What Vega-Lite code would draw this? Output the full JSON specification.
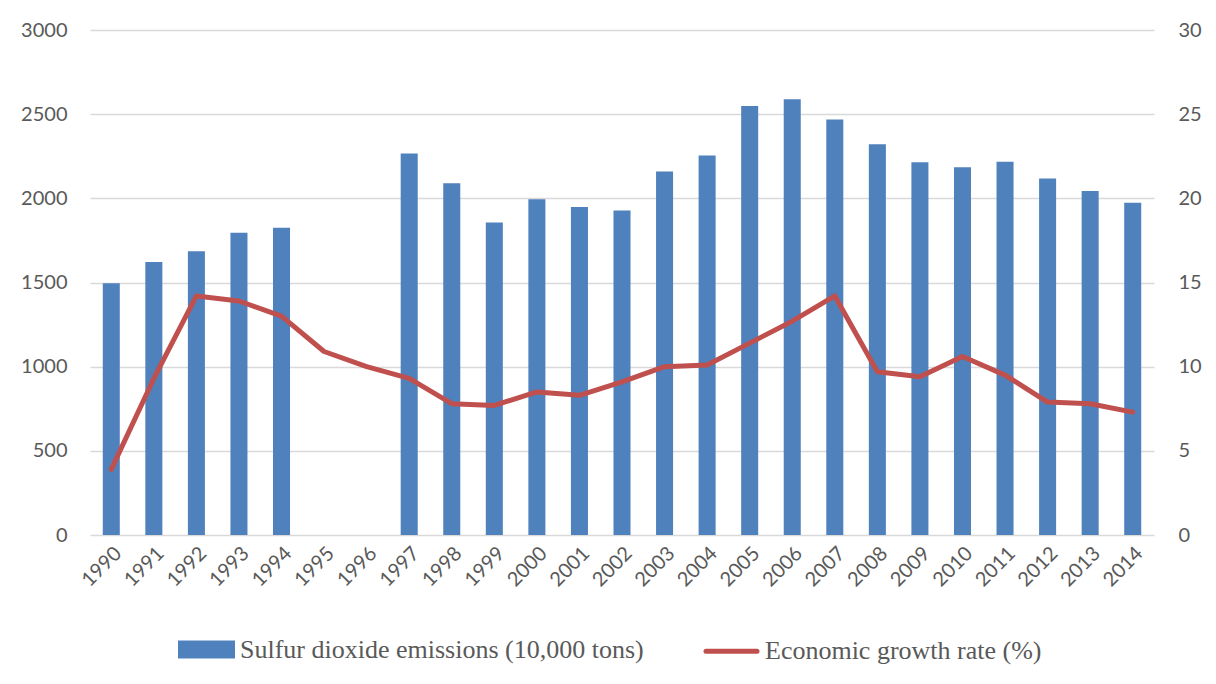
{
  "$schema": "https://vega.github.io/schema/vega-lite/v6.json",
  "width": 1064,
  "height": 505,
  "autosize": {"type": "none"},
  "padding": {"left": 90, "top": 30, "right": 62, "bottom": 149},
  "background": "white",
  "config": {
    "view": {"stroke": null},
    "font": "Lato",
    "axis": {"labelFont": "Lato", "labelFontSize": 20, "labelColor": "#595959", "domain": false, "ticks": false, "title": null}
  },
  "data": {
    "values": [
      {"year": "1990", "so2": 1495, "growth": 3.9},
      {"year": "1991", "so2": 1622, "growth": 9.3},
      {"year": "1992", "so2": 1685, "growth": 14.2},
      {"year": "1993", "so2": 1795, "growth": 13.9},
      {"year": "1994", "so2": 1825, "growth": 13.0},
      {"year": "1995", "so2": null, "growth": 10.9},
      {"year": "1996", "so2": null, "growth": 10.0},
      {"year": "1997", "so2": 2266, "growth": 9.3},
      {"year": "1998", "so2": 2090, "growth": 7.8},
      {"year": "1999", "so2": 1857, "growth": 7.7},
      {"year": "2000", "so2": 1995, "growth": 8.5},
      {"year": "2001", "so2": 1948, "growth": 8.3},
      {"year": "2002", "so2": 1927, "growth": 9.1},
      {"year": "2003", "so2": 2159, "growth": 10.0},
      {"year": "2004", "so2": 2255, "growth": 10.1},
      {"year": "2005", "so2": 2549, "growth": 11.4},
      {"year": "2006", "so2": 2589, "growth": 12.7},
      {"year": "2007", "so2": 2468, "growth": 14.2},
      {"year": "2008", "so2": 2321, "growth": 9.7},
      {"year": "2009", "so2": 2214, "growth": 9.4},
      {"year": "2010", "so2": 2185, "growth": 10.6},
      {"year": "2011", "so2": 2218, "growth": 9.5},
      {"year": "2012", "so2": 2118, "growth": 7.9},
      {"year": "2013", "so2": 2044, "growth": 7.8},
      {"year": "2014", "so2": 1974, "growth": 7.3}
    ]
  },
  "encoding": {
    "x": {
      "field": "year",
      "type": "ordinal",
      "scale": {"paddingInner": 0.6, "paddingOuter": 0.3},
      "axis": {"labelAngle": -45, "labelPadding": 8, "grid": false}
    }
  },
  "layer": [
    {
      "mark": {"type": "bar", "color": "#4F81BD"},
      "encoding": {
        "y": {
          "field": "so2",
          "type": "quantitative",
          "scale": {"domain": [0, 3000], "nice": false},
          "axis": {"values": [0, 500, 1000, 1500, 2000, 2500, 3000], "format": "d", "grid": true, "gridColor": "#D9D9D9", "gridWidth": 1.5, "labelPadding": 23}
        },
        "color": {
          "datum": "Sulfur dioxide emissions (10,000 tons)",
          "type": "nominal",
          "scale": {
            "domain": ["Sulfur dioxide emissions (10,000 tons)", "Economic growth rate (%)"],
            "range": ["#4F81BD", "#C0504D"]
          },
          "legend": {
            "title": null,
            "orient": "none",
            "legendX": 88,
            "legendY": 591,
            "direction": "horizontal",
            "padding": 0,
            "offset": 0,
            "labelFont": "Liberation Serif",
            "labelFontSize": 26,
            "labelColor": "#595959",
            "labelOffset": 5,
            "labelLimit": 0,
            "columnPadding": 52,
            "symbolSize": 2704,
            "symbolStrokeWidth": 5,
            "encode": {
              "symbols": {
                "update": {
                  "shape": {"signal": "datum.value === 'Economic growth rate (%)' ? 'M-0.98,0H0.98' : 'M-1,-0.25H1V0.25H-1Z'"},
                  "fill": {"signal": "datum.value === 'Economic growth rate (%)' ? 'transparent' : '#4F81BD'"},
                  "stroke": {"signal": "datum.value === 'Economic growth rate (%)' ? '#C0504D' : 'transparent'"},
                  "strokeWidth": {"value": 5},
                  "strokeCap": {"value": "round"},
                  "opacity": {"value": 1}
                }
              }
            }
          }
        }
      }
    },
    {
      "mark": {"type": "line", "strokeWidth": 5, "strokeCap": "round", "strokeJoin": "round"},
      "encoding": {
        "y": {
          "field": "growth",
          "type": "quantitative",
          "scale": {"domain": [0, 30], "nice": false},
          "axis": {"orient": "right", "values": [0, 5, 10, 15, 20, 25, 30], "grid": false, "labelPadding": 24, "labelAlign": "left"}
        },
        "color": {"datum": "Economic growth rate (%)", "type": "nominal"}
      }
    }
  ],
  "resolve": {"scale": {"y": "independent"}}
}
